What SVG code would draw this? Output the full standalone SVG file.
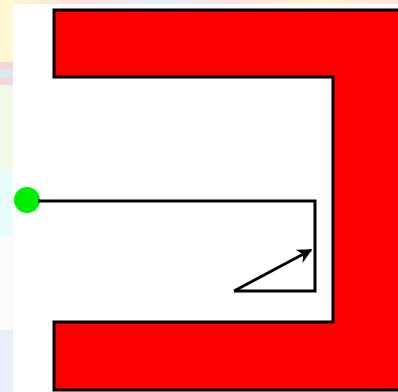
<svg xmlns="http://www.w3.org/2000/svg" width="398" height="392" viewBox="0 0 398 392">
  <defs>
    <style>
      .shape { fill: #ff0000; stroke: #000; stroke-width: 3; stroke-linejoin: miter; }
      .path { fill: none; stroke: #000; stroke-width: 3; }
    </style>
    <marker id="arrow" viewBox="0 0 10 10" refX="9" refY="5" markerWidth="5" markerHeight="5" orient="auto" markerUnits="strokeWidth">
      <path d="M0,0 L10,5 L0,10 L3,5 Z" fill="#000"/>
    </marker>
    <linearGradient id="topg" x1="0" y1="0" x2="1" y2="0">
      <stop offset="0" stop-color="#fff6cc"/>
      <stop offset="0.2" stop-color="#fbe3e0"/>
      <stop offset="0.4" stop-color="#e4f2f8"/>
      <stop offset="0.6" stop-color="#fbe4e0"/>
      <stop offset="0.8" stop-color="#fff6d0"/>
      <stop offset="1" stop-color="#fbe6e0"/>
    </linearGradient>
  </defs>
  <g id="background">
    <rect x="0" y="0" width="398" height="392" fill="#ffffff"/>
    <rect x="0" y="0" width="398" height="4" fill="url(#topg)"/>
    <rect x="0" y="0" width="13" height="62" fill="#fff8d2"/>
    <rect x="0" y="62" width="13" height="8" fill="#f6d6d6"/>
    <rect x="0" y="70" width="13" height="8" fill="#d8eaf4"/>
    <rect x="0" y="78" width="13" height="7" fill="#f6d8dc"/>
    <rect x="0" y="85" width="13" height="85" fill="#f0fae6"/>
    <rect x="0" y="170" width="13" height="65" fill="#e8fcfa"/>
    <rect x="0" y="235" width="13" height="95" fill="#fbfbfd"/>
    <rect x="0" y="330" width="13" height="62" fill="#e9f0fb"/>
  </g>
  <g id="magnet">
    <path class="shape" d="M54,10 L402,10 L402,390 L54,390 L54,322 L333,322 L333,77 L54,77 Z"/>
  </g>
  <g id="start">
    <circle cx="27" cy="200" r="13" fill="#00ee00"/>
  </g>
  <g id="connectors">
    <polyline class="path" points="38,201 315,201 315,291 234,291"/>
    <line class="path" x1="234" y1="291" x2="311" y2="250" marker-end="url(#arrow)"/>
  </g>
</svg>
